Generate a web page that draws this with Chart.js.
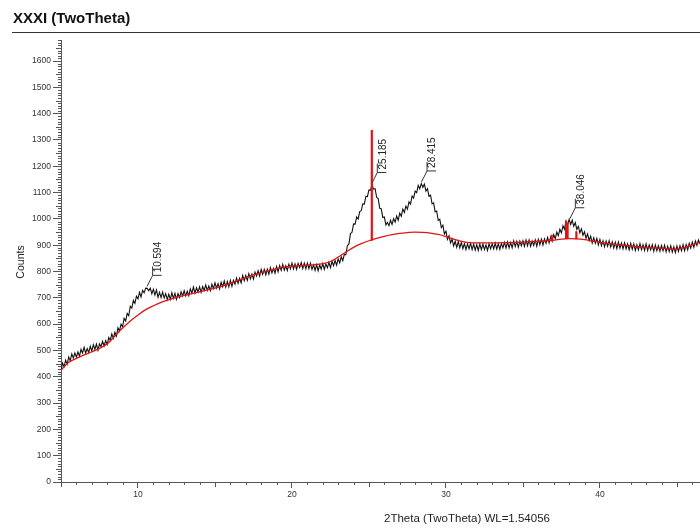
<!DOCTYPE html>
<html>
<head>
<meta charset="utf-8">
<script src="https://cdn.jsdelivr.net/npm/chart.js@4.4.1/dist/chart.umd.min.js"></script>
<style>
html,body{margin:0;padding:0;background:#fff;}
canvas{display:block;}
</style>
</head>
<body>
<canvas id="c" width="700" height="529" style="width:700px;height:529px"></canvas>
<script>
// ---- data ----
const chartTitle = 'XXXI (TwoTheta)';
const xAxisTitle = '2Theta (TwoTheta) WL=1.54056';
const yAxisTitle = 'Counts';

const scanStart = 5.0;   // 2Theta of first measured point
const scanStep = 0.1;    // step of the scan
const counts = [
  425,452,438,463,448,475,461,487,471,490,
  474,495,478,504,490,512,490,507,492,516,
  498,522,504,524,501,525,515,535,517,537,
  523,549,539,563,546,569,555,586,574,600,
  590,622,612,641,632,668,661,690,679,706,
  696,721,703,728,719,737,736,727,737,715,
  733,711,730,702,721,701,722,700,716,693,
  714,694,719,698,717,694,716,701,723,707,
  727,707,725,708,734,718,741,718,738,722,
  742,721,743,728,749,728,745,727,752,735,
  757,737,754,734,759,742,764,741,762,742,
  766,744,767,752,775,755,774,757,785,765,
  785,766,792,772,790,771,798,783,803,783,
  808,789,808,787,809,790,815,795,812,794,
  819,799,823,805,827,805,822,804,828,810,
  832,810,829,808,831,815,834,811,832,810,
  832,811,832,808,825,804,826,803,825,809,
  830,808,829,814,835,815,839,822,842,824,
  848,833,856,841,865,864,898,905,944,949,
  981,980,1007,1000,1028,1031,1057,1056,1086,1085,
  1110,1109,1129,1113,1115,1082,1077,1040,1038,1005,
  1007,977,987,974,995,979,1001,988,1011,995,
  1022,1010,1037,1025,1049,1037,1065,1056,1087,1079,
  1106,1100,1127,1115,1134,1120,1132,1106,1115,1086,
  1090,1057,1061,1027,1030,994,999,967,976,943,
  953,922,936,909,923,897,915,892,914,890,
  911,887,906,883,905,886,907,883,904,881,
  902,880,905,883,904,883,901,880,906,886,
  906,886,908,885,906,884,907,890,911,889,
  912,890,910,890,917,895,915,892,915,898,
  917,896,920,898,920,896,916,899,920,896,
  922,902,923,901,924,907,930,909,931,915,
  940,925,950,936,961,947,974,961,992,977,
  998,979,995,972,986,960,972,947,962,938,
  951,926,943,918,934,908,928,907,926,901,
  922,898,917,894,916,896,917,893,913,889,
  911,887,912,889,908,886,909,886,905,882,
  907,884,905,880,902,882,906,883,902,880,
  905,880,901,882,902,877,901,879,898,877,
  899,879,900,875,896,876,898,874,894,872,
  897,876,898,879,902,879,902,882,907,889,
  912,892,916,899,920,904
];

const bgAngles = [5.0,5.5,6.0,6.5,7.0,7.5,8.0,8.5,9.0,9.5,10.0,10.5,11.0,11.5,12.0,12.5,13.0,13.5,14.0,14.5,15.0,15.5,16.0,16.5,17.0,17.5,18.0,18.5,19.0,19.5,20.0,20.5,21.0,21.5,22.0,22.5,23.0,23.5,24.0,24.5,25.0,25.5,26.0,26.5,27.0,27.5,28.0,28.5,29.0,29.5,30.0,30.5,31.0,31.5,32.0,33.0,34.0,35.0,36.0,36.8,37.5,38.0,38.5,39.0,39.5,40.0,41.0,42.0,43.0,44.0,44.8,45.5,46.5];
const bgCounts = [425,455,470,483,495,508,525,555,585,612,635,655,670,683,693,702,709,716,723,730,737,745,755,766,777,787,796,804,811,817,821,822,824,826,830,838,855,874,892,906,917,926,934,940,945,948,950,949,946,941,933,923,915,910,909,909,910,912,915,918,923,925,924,921,916,911,903,897,892,888,885,892,912];

const stickAngles = [25.185, 36.87, 37.80, 37.90, 38.47];
const stickBase   = [917, 918, 924, 924, 923];
const stickTop    = [1338, 940, 993, 985, 953];

const peakAngles = [10.594, 25.185, 28.415, 38.046];
const peakCounts = [736, 1127, 1133, 993];
const peakLabels = ['10.594', '25.185', '28.415', '38.046'];

const xTickValues = [10, 20, 30, 40];
const yTickValues = [0,100,200,300,400,500,600,700,800,900,1000,1100,1200,1300,1400,1500,1600];
const xMin = 5, xMax = 46.5, yMin = 0, yMax = 1680;

// ---- build datasets ----
const scanPoints = counts.map((c, i) => ({x: +(scanStart + i * scanStep).toFixed(2), y: c}));
const bgPoints = bgAngles.map((a, i) => ({x: a, y: bgCounts[i]}));
const stickPoints = [];
stickAngles.forEach((a, i) => {
  stickPoints.push({x: a, y: stickBase[i]}, {x: a, y: stickTop[i]}, {x: a, y: null});
});

const FONT = "'Liberation Sans', Arial, sans-serif";

const decor = {
  id: 'decor',
  afterDraw(chart) {
    const ctx = chart.ctx;
    const xs = chart.scales.x, ys = chart.scales.y;
    const area = chart.chartArea;
    ctx.save();
    // title + rule
    ctx.fillStyle = '#111';
    ctx.font = 'bold 15px ' + FONT;
    ctx.textAlign = 'left';
    ctx.textBaseline = 'alphabetic';
    ctx.fillText(chartTitle, 13, 22.5);
    ctx.strokeStyle = '#333';
    ctx.lineWidth = 1;
    ctx.beginPath();
    ctx.moveTo(12, 32.5);
    ctx.lineTo(700, 32.5);
    ctx.stroke();

    // minor ticks
    ctx.strokeStyle = '#555';
    ctx.lineWidth = 1;
    ctx.beginPath();
    for (let v = 5; v <= xMax; v += 1) {
      if (v % 10 === 0) continue;
      const px = Math.round(xs.getPixelForValue(v)) + 0.5;
      const len = (v % 5 === 0) ? 5 : 3;
      ctx.moveTo(px, area.bottom);
      ctx.lineTo(px, area.bottom + len);
    }
    for (let v = 0; v <= yMax; v += 10) {
      if (v % 100 === 0) continue;
      const py = Math.round(ys.getPixelForValue(v)) + 0.5;
      const len = (v % 50 === 0) ? 5 : 3;
      ctx.moveTo(area.left, py);
      ctx.lineTo(area.left - len, py);
    }
    ctx.stroke();

    // axis titles
    ctx.fillStyle = '#222';
    ctx.font = '11.5px ' + FONT;
    ctx.textAlign = 'center';
    ctx.textBaseline = 'middle';
    ctx.fillText(xAxisTitle, 467, 519);
    ctx.save();
    ctx.translate(21, 262);
    ctx.rotate(-Math.PI / 2);
    ctx.font = '10.5px ' + FONT;
    ctx.fillText(yAxisTitle, 0, 0);
    ctx.restore();

    // peak labels
    ctx.font = '10px ' + FONT;
    ctx.fillStyle = '#222';
    ctx.strokeStyle = '#333';
    ctx.lineWidth = 1;
    peakAngles.forEach((a, i) => {
      const px = xs.getPixelForValue(a);
      const py = ys.getPixelForValue(peakCounts[i]) - 2;
      const cx = px + 5.5, cy = py - 11;
      ctx.beginPath();
      ctx.moveTo(px, py);
      ctx.lineTo(cx, cy);
      ctx.lineTo(cx + 9, cy);
      ctx.moveTo(cx, cy);
      ctx.lineTo(cx, cy - 9);
      ctx.stroke();
      ctx.save();
      ctx.translate(cx + 5.5, cy - 3);
      ctx.rotate(-Math.PI / 2);
      ctx.textAlign = 'left';
      ctx.textBaseline = 'middle';
      ctx.fillText(peakLabels[i], 0, 0);
      ctx.restore();
    });
    ctx.restore();
  }
};

new Chart(document.getElementById('c'), {
  type: 'line',
  data: {
    datasets: [
      {data: stickPoints, borderColor: 'rgb(228,18,18)', borderWidth: 2.2, pointRadius: 0, spanGaps: false, tension: 0, order: 1},
      {data: bgPoints, borderColor: 'rgb(228,18,18)', borderWidth: 1.3, pointRadius: 0, tension: 0.4, cubicInterpolationMode: 'monotone', order: 2},
      {data: scanPoints, borderColor: '#111', borderWidth: 1.1, pointRadius: 0, tension: 0, order: 3}
    ]
  },
  options: {
    responsive: false,
    animation: false,
    devicePixelRatio: 1,
    layout: {padding: {top: 40, left: 0, right: 0, bottom: 0}},
    plugins: {legend: {display: false}, tooltip: {enabled: false}, title: {display: false}},
    elements: {point: {radius: 0}},
    scales: {
      x: {
        type: 'linear', min: xMin, max: xMax,
        afterFit(s) { s.height = 47; },
        afterBuildTicks(s) { s.ticks = xTickValues.map(v => ({value: v})); },
        grid: {display: true, drawOnChartArea: false, drawTicks: true, tickLength: 6, color: '#555'},
        border: {display: true, color: '#555', width: 1},
        ticks: {font: {family: FONT, size: 8.5}, color: '#333', padding: 2, maxRotation: 0, autoSkip: false, callback: v => String(v)}
      },
      y: {
        type: 'linear', min: yMin, max: yMax,
        afterFit(s) { s.width = 61; },
        afterBuildTicks(s) { s.ticks = yTickValues.map(v => ({value: v})); },
        grid: {display: true, drawOnChartArea: false, drawTicks: true, tickLength: 8, color: '#555'},
        border: {display: true, color: '#555', width: 1},
        ticks: {font: {family: FONT, size: 8.5}, color: '#333', padding: 2, autoSkip: false, callback: v => String(v)}
      }
    }
  },
  plugins: [decor]
});
</script>
</body>
</html>
